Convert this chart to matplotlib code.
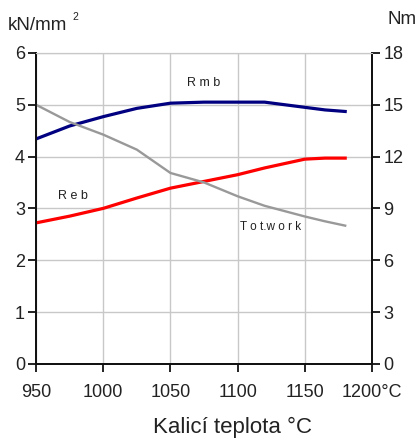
import matplotlib.pyplot as plt

plt.rcParams['font.family'] = ['Liberation Sans', 'DejaVu Sans']

# data
teplota = [950, 975, 1000, 1025, 1050, 1075, 1100, 1120, 1150, 1165, 1180]
rmb = [4.34, 4.59, 4.77, 4.93, 5.03, 5.05, 5.05, 5.05, 4.95, 4.90, 4.87]
reb = [2.72, 2.85, 3.00, 3.20, 3.39, 3.52, 3.65, 3.78, 3.95, 3.97, 3.97]
totwork = [15.0, 14.0, 13.27, 12.4, 11.05, 10.5, 9.7, 9.15, 8.53, 8.25, 8.0]

xticks = [950, 1000, 1050, 1100, 1150, 1200]
xticklabels = ['950', '1000', '1050', '1100', '1150', '1200°C']

fig = plt.figure(figsize=(4.19, 4.41), dpi=100, facecolor='white')
ax = fig.add_axes([0.086, 0.175, 0.802, 0.705])
ax2 = ax.twinx()

ax.plot(teplota, rmb, color='#000080', lw=2.3, zorder=3)
ax.plot(teplota, reb, color='#ff0000', lw=2.3, zorder=3)
ax2.plot(teplota, totwork, color='#999999', lw=1.7, zorder=2)

ax.set_xlim(950, 1200)
ax.set_ylim(0, 6)
ax2.set_ylim(0, 18)
ax.set_xticks(xticks)
ax.set_xticklabels(xticklabels)
ax.set_yticks(range(0, 7))
ax2.set_yticks(range(0, 19, 3))

ax.grid(True, color='#c8c8c8', lw=1.0)
ax.set_axisbelow(True)
for a in (ax, ax2):
    a.spines['top'].set_color('#c8c8c8')
    for s in ('left', 'right', 'bottom'):
        a.spines[s].set_linewidth(1.3)
        a.spines[s].set_color('#111111')
    a.tick_params(labelsize=13, width=1.3, length=5.5, pad=2.5,
                  color='#111111', labelcolor='#222222')
ax.tick_params(axis='x', pad=9)

# popisky krivek
ax.text(1062, 5.41, 'R m b', fontsize=9, color='#222222', va='center')
ax.text(966, 3.24, 'R e b', fontsize=9, color='#222222', va='center')
ax.text(1102, 2.64, 'T o t.w o r k', fontsize=8.5, color='#222222', va='center')

fig.text(0.019, 0.943, 'kN/mm', fontsize=13.5, color='#222222', va='center')
fig.text(0.172, 0.962, '2', fontsize=7.5, color='#222222', va='center')
fig.text(0.924, 0.955, 'Nm', fontsize=13.5, color='#222222', va='center')
fig.text(0.555, 0.03, 'Kalicí teplota °C', fontsize=16, color='#222222',
         ha='center', va='center')

fig.savefig('out.png', dpi=100)
